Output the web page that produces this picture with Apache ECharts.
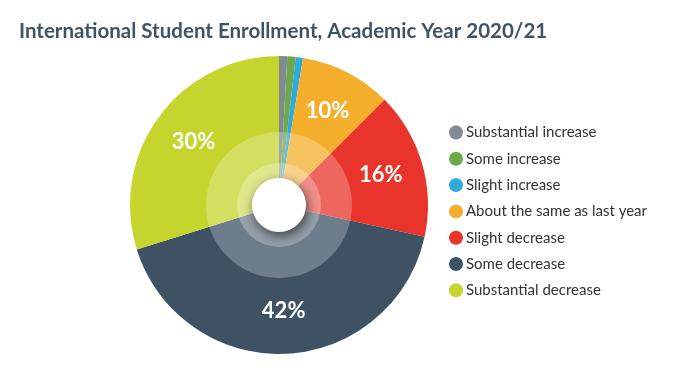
<!DOCTYPE html>
<html><head><meta charset="utf-8">
<script src="https://cdn.jsdelivr.net/npm/echarts@6/dist/echarts.min.js"></script>
<style>html,body{margin:0;padding:0;background:#fff}#c{width:682px;height:380px}</style>
</head><body><div id="c"></div>
<script>
const categories = ['Substantial increase','Some increase','Slight increase','About the same as last year','Slight decrease','Some decrease','Substantial decrease'];
const values = [0.9, 0.9, 0.8, 10, 16, 42, 30];
const labelText = ['', '', '', '10%', '16%', '42%', '30%'];
const colors = ['#7f8a95','#6ea84b','#2eaadb','#f5ae2b','#e8342a','#3e5264','#c5d52d'];

const center = [279, 205];
const chart = echarts.init(document.getElementById('c'));
const pieData = categories.map((n,i)=>({name:n, value:values[i], itemStyle:{color:colors[i]}}));
chart.setOption({
  animation:false,
  title:{text:'International Student Enrollment, Academic Year 2020/21', left:14, top:16,
    textStyle:{fontFamily:'Lato', fontWeight:'bold', fontSize:20.5, color:'#3d5466'}},
  legend:{orient:'vertical', left:444, top:120, itemWidth:14, itemHeight:14, itemGap:11.3, icon:'circle',
    data:categories, textStyle:{fontFamily:'Lato', fontSize:15, color:'#333', padding:[0,0,0,-2]}},
  series:[
    {type:'pie', center:center, radius:[27,149], startAngle:90, clockwise:true, silent:true,
      label:{show:false}, labelLine:{show:false}, data:pieData, z:1},
    {type:'pie', center:center, radius:[27,73], silent:true, label:{show:false}, z:2,
      data:[{name:'_ringA', value:1, itemStyle:{color:'rgba(255,255,255,0.25)'}}]},
    {type:'pie', center:center, radius:[27,42], silent:true, label:{show:false}, z:3,
      data:[{name:'_ringB', value:1, itemStyle:{color:'rgba(255,255,255,0.28)'}}]},
    {type:'pie', center:center, radius:[0,27], silent:true, label:{show:false}, z:4,
      data:[{name:'_hole', value:1, itemStyle:{color:'#fff', shadowBlur:12, shadowColor:'rgba(0,0,0,0.6)', shadowOffsetX:2, shadowOffsetY:4}}]},
    {type:'pie', center:center, radius:[57,149], startAngle:90, clockwise:true, silent:true, z:5,
      label:{show:true, position:'inside', formatter:p=>labelText[p.dataIndex], color:'#fff',
        fontFamily:'Lato', fontWeight:'bold', fontSize:22},
      labelLine:{show:false},
      data:categories.map((n,i)=>({name:n, value:values[i], itemStyle:{color:'rgba(0,0,0,0)'}}))}
  ]
});
</script></body></html>
